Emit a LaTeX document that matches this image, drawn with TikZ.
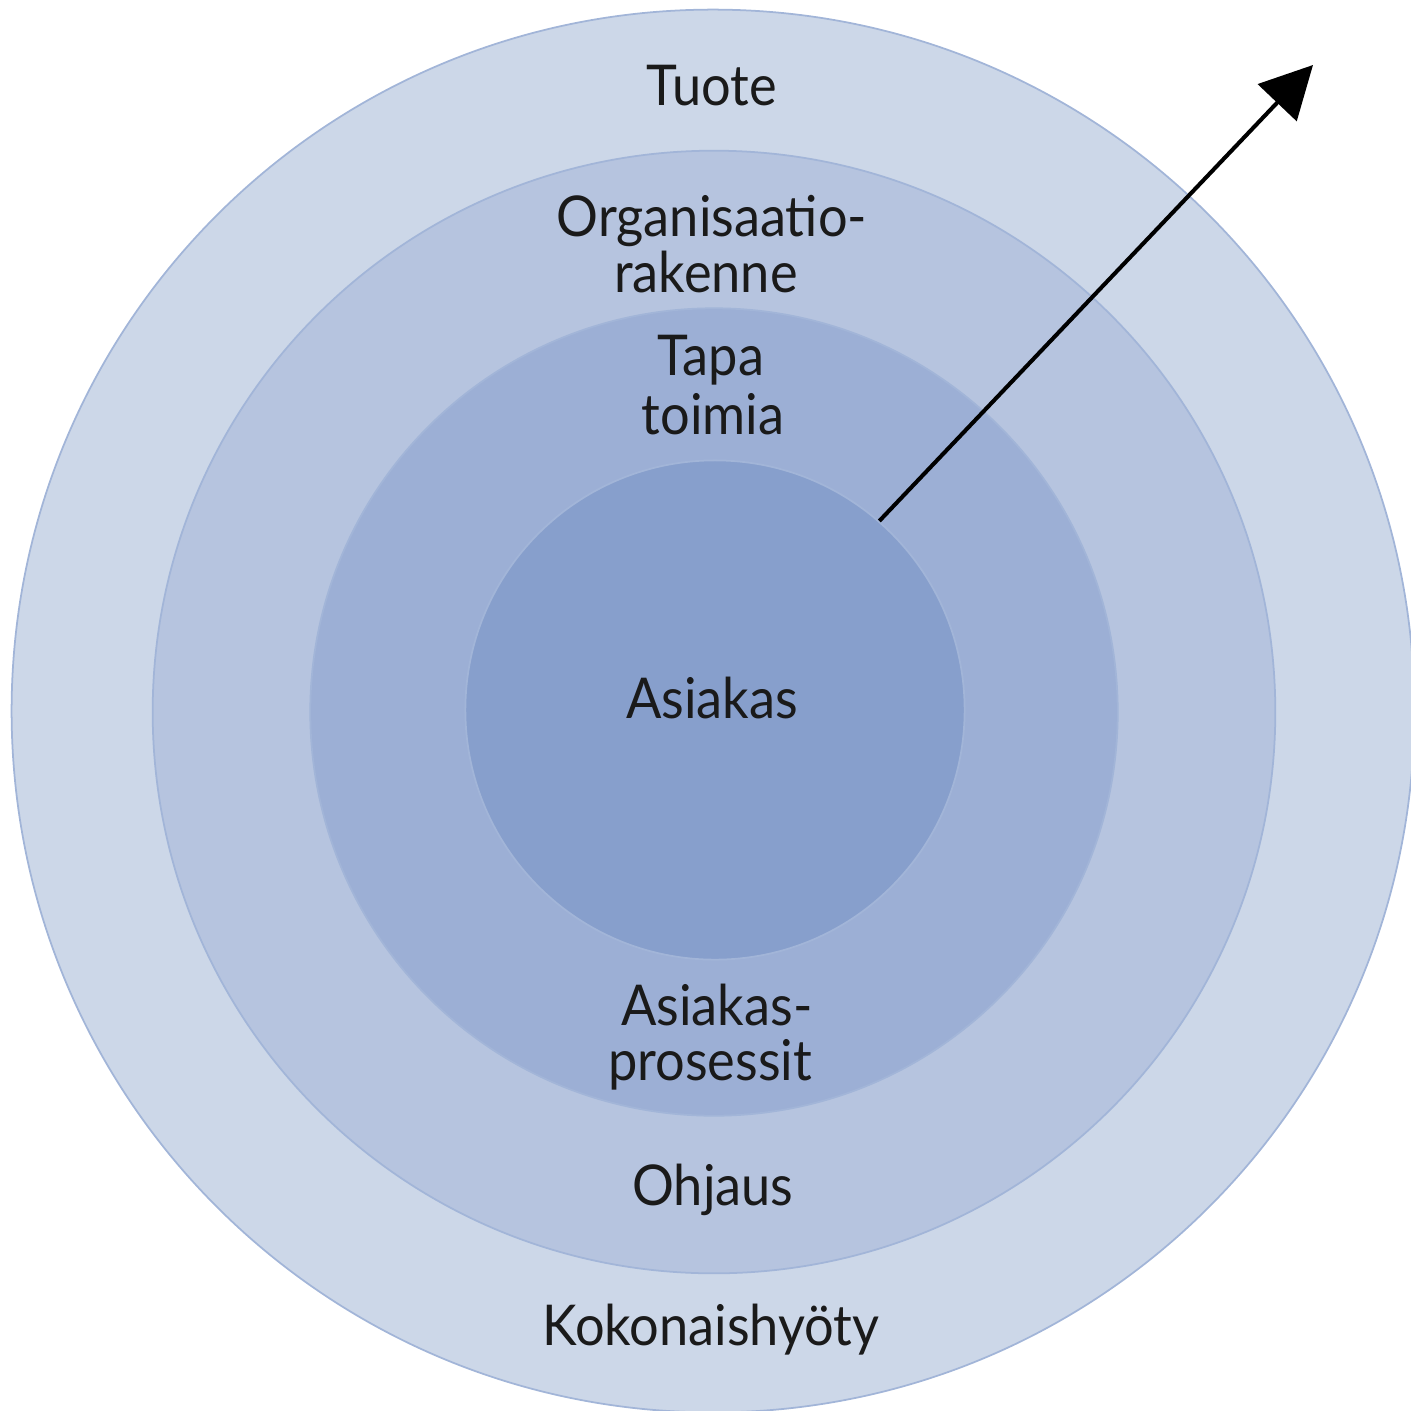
\documentclass[tikz,border=0pt]{standalone}
\usepackage{fontspec}
\setmainfont{Lato}
\usetikzlibrary{arrows.meta}
\definecolor{ringA}{HTML}{CCD7E8}
\definecolor{ringB}{HTML}{B6C4DF}
\definecolor{ringC}{HTML}{9CAFD5}
\definecolor{ringD}{HTML}{879FCC}
\definecolor{ringEdge}{HTML}{A2B5D8}
\definecolor{txt}{HTML}{1A1A1A}
\begin{document}
\begin{tikzpicture}[x=0.01cm,y=-0.01cm,
  ring/.style={circle,inner sep=0pt,draw=ringEdge,line width=0.5pt},
  lbl/.style={text=txt,font=\fontsize{16pt}{15.9pt}\selectfont,align=center,inner sep=0pt,anchor=base,xscale=0.93},
  pointer/.style={line width=1.15pt,-{Triangle[length=0.52cm,width=0.53cm]}}]
\useasboundingbox (0,0) rectangle (1411,1411);
% concentric layers, outermost first
\node[ring,fill=ringA,minimum size=14.02cm] (outer) at (713,711) {};
\node[ring,fill=ringB,minimum size=11.22cm] (second) at (714,712) {};
\node[ring,fill=ringC,minimum size=8.07cm] (third) at (714,712) {};
\node[ring,fill=ringD,minimum size=4.99cm] (inner) at (715,710) {};
% labels
\node[lbl] (tuote) at (712,105) {Tuote};
\node[lbl] (org1) at (712,236) {Organisaatio-};
\node[lbl] (org2) at (706,292) {rakenne};
\node[lbl] (tapa1) at (711,375) {Tapa};
\node[lbl] (tapa2) at (713,434) {toimia};
\node[lbl] (asiakas) at (712,718) {Asiakas};
\node[lbl] (proc1) at (717,1025) {Asiakas-};
\node[lbl] (proc2) at (710,1080) {prosessit};
\node[lbl] (ohjaus) at (713,1205) {Ohjaus};
\node[lbl] (hyoty) at (711,1345) {Kokonaishyöty};
% outward arrow
\coordinate (tip) at (1313,65);
\draw[pointer] (inner.49.7) -- (tip);
\end{tikzpicture}
\end{document}
